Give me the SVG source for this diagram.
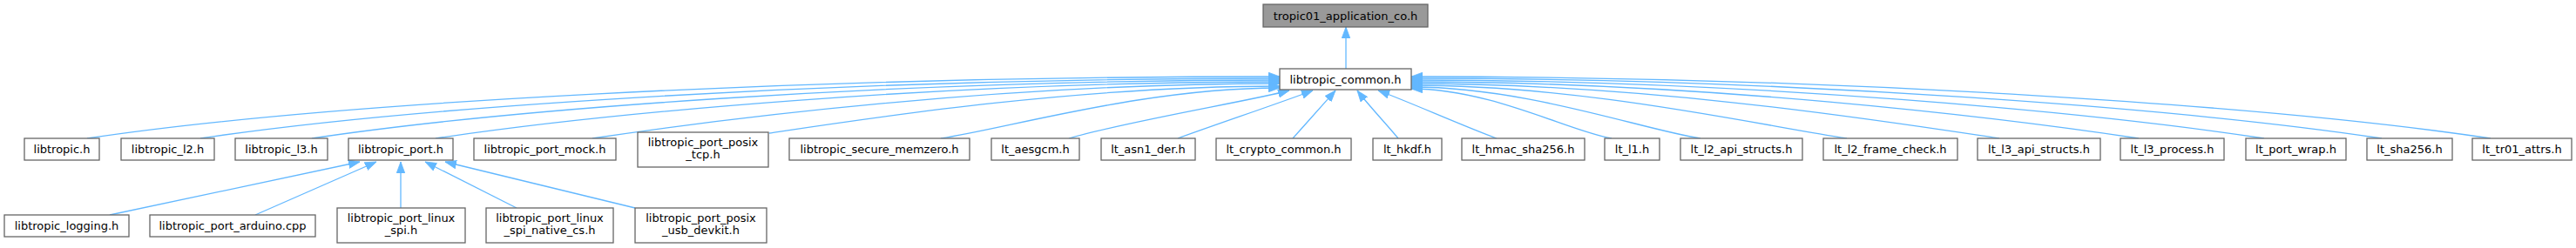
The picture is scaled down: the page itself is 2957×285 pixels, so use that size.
<svg xmlns="http://www.w3.org/2000/svg" width="2957" height="285" viewBox="0 0 2957 285">
<style>
.n rect{fill:#ffffff;stroke:#666666;stroke-width:1.3}
.n.root rect{fill:#999999}
.n text{font-family:"DejaVu Sans",Verdana,sans-serif;font-size:13px;text-anchor:middle;fill:#000000}
.e path{fill:none;stroke:#63b8ff;stroke-width:1.3;marker-end:url(#ah)}
</style>
<defs>
<marker id="ah" markerUnits="userSpaceOnUse" viewBox="0 0 13 10" markerWidth="13" markerHeight="10" refX="13" refY="5" orient="auto">
<path d="M0,0.2 L13,5 L0,9.8 z" fill="#63b8ff" stroke="#63b8ff" stroke-width="0.8"/>
</marker>
</defs>
<rect width="2957" height="285" fill="#ffffff"/>
<g id="edges" class="e">
<path d="M1545,79 L1545,31"/>
<path d="M100,159 C373.8,117.9 921.4,88 1469,88"/>
<path d="M230,159 C477.8,121.8 973.4,90 1469,90"/>
<path d="M358,159 C580.2,125.7 1024.6,92 1469,92"/>
<path d="M500,159 C693.8,129.9 1081.4,94 1469,94"/>
<path d="M680,159 C837.8,135.3 1153.4,96 1469,96"/>
<path d="M883,153 C1000.2,135.4 1234.6,99 1469,99"/>
<path d="M1080,159 C1157.8,147.3 1313.4,101 1469,101"/>
<path d="M1227,159 C1290,140 1440,115 1480,104"/>
<path d="M1352,159 C1390,145 1470,118 1507,104"/>
<path d="M1484,159 C1500,141 1518,121 1533,104"/>
<path d="M1605,159 C1590,141 1571,121 1558,104"/>
<path d="M1718,159 C1680,145 1615,116 1582,104"/>
<path d="M1850,159 C1804,152.1 1712,102 1620,102"/>
<path d="M1952,159 C1885.6,149 1752.8,100 1620,100"/>
<path d="M2120,159 C2020,144 1820,98 1620,98"/>
<path d="M2295,159 C2160,138.75 1890,96 1620,96"/>
<path d="M2455,159 C2288,134 1954,94 1620,94"/>
<path d="M2599,159 C2403.2,129.6 2011.6,92 1620,92"/>
<path d="M2734,159 C2511.2,125.6 2065.6,90 1620,90"/>
<path d="M2859,159 C2611.2,121.8 2115.6,88 1620,88"/>
<path d="M126,247 L413,186"/>
<path d="M293,247 L432,186"/>
<path d="M460,239 L460,186"/>
<path d="M593,239 L488,186"/>
<path d="M729,239 L511,186"/>
</g>
<g id="node_tropic01_application_co" class="n root"><rect x="1450" y="5" width="189" height="26"/><text x="1544.5" y="22.5">tropic01_application_co.h</text></g>
<g id="node_libtropic_common" class="n"><rect x="1469" y="79" width="151" height="24"/><text x="1544.5" y="95.5">libtropic_common.h</text></g>
<g id="node_libtropic" class="n"><rect x="28" y="159" width="86" height="25"/><text x="71" y="176">libtropic.h</text></g>
<g id="node_libtropic_l2" class="n"><rect x="139" y="159" width="107" height="25"/><text x="192.5" y="176">libtropic_l2.h</text></g>
<g id="node_libtropic_l3" class="n"><rect x="270" y="159" width="106" height="25"/><text x="323" y="176">libtropic_l3.h</text></g>
<g id="node_libtropic_port" class="n"><rect x="400" y="159" width="120" height="25"/><text x="460" y="176">libtropic_port.h</text></g>
<g id="node_libtropic_port_mock" class="n"><rect x="544" y="159" width="163" height="25"/><text x="625.5" y="176">libtropic_port_mock.h</text></g>
<g id="node_libtropic_port_posix_tcp" class="n"><rect x="732" y="152" width="150" height="40"/><text x="807" y="168">libtropic_port_posix</text><text x="807" y="182">_tcp.h</text></g>
<g id="node_libtropic_secure_memzero" class="n"><rect x="906" y="159" width="207" height="25"/><text x="1009.5" y="176">libtropic_secure_memzero.h</text></g>
<g id="node_lt_aesgcm" class="n"><rect x="1138" y="159" width="101" height="25"/><text x="1188.5" y="176">lt_aesgcm.h</text></g>
<g id="node_lt_asn1_der" class="n"><rect x="1264" y="159" width="108" height="25"/><text x="1318" y="176">lt_asn1_der.h</text></g>
<g id="node_lt_crypto_common" class="n"><rect x="1396" y="159" width="155" height="25"/><text x="1473.5" y="176">lt_crypto_common.h</text></g>
<g id="node_lt_hkdf" class="n"><rect x="1576" y="159" width="79" height="25"/><text x="1615.5" y="176">lt_hkdf.h</text></g>
<g id="node_lt_hmac_sha256" class="n"><rect x="1678" y="159" width="141" height="25"/><text x="1748.5" y="176">lt_hmac_sha256.h</text></g>
<g id="node_lt_l1" class="n"><rect x="1842" y="159" width="63" height="25"/><text x="1873.5" y="176">lt_l1.h</text></g>
<g id="node_lt_l2_api_structs" class="n"><rect x="1929" y="159" width="140" height="25"/><text x="1999" y="176">lt_l2_api_structs.h</text></g>
<g id="node_lt_l2_frame_check" class="n"><rect x="2093" y="159" width="154" height="25"/><text x="2170" y="176">lt_l2_frame_check.h</text></g>
<g id="node_lt_l3_api_structs" class="n"><rect x="2270" y="159" width="141" height="25"/><text x="2340.5" y="176">lt_l3_api_structs.h</text></g>
<g id="node_lt_l3_process" class="n"><rect x="2434" y="159" width="119" height="25"/><text x="2493.5" y="176">lt_l3_process.h</text></g>
<g id="node_lt_port_wrap" class="n"><rect x="2578" y="159" width="115" height="25"/><text x="2635.5" y="176">lt_port_wrap.h</text></g>
<g id="node_lt_sha256" class="n"><rect x="2717" y="159" width="98" height="25"/><text x="2766" y="176">lt_sha256.h</text></g>
<g id="node_lt_tr01_attrs" class="n"><rect x="2838" y="159" width="114" height="25"/><text x="2895" y="176">lt_tr01_attrs.h</text></g>
<g id="node_libtropic_logging" class="n"><rect x="5" y="247" width="143" height="25"/><text x="76.5" y="264">libtropic_logging.h</text></g>
<g id="node_libtropic_port_arduino" class="n"><rect x="172" y="247" width="190" height="25"/><text x="267" y="264">libtropic_port_arduino.cpp</text></g>
<g id="node_libtropic_port_linux_spi" class="n"><rect x="387" y="239" width="147" height="40"/><text x="460.5" y="255">libtropic_port_linux</text><text x="460.5" y="269">_spi.h</text></g>
<g id="node_libtropic_port_linux_spi_native_cs" class="n"><rect x="558" y="239" width="146" height="40"/><text x="631" y="255">libtropic_port_linux</text><text x="631" y="269">_spi_native_cs.h</text></g>
<g id="node_libtropic_port_posix_usb_devkit" class="n"><rect x="729" y="239" width="151" height="40"/><text x="804.5" y="255">libtropic_port_posix</text><text x="804.5" y="269">_usb_devkit.h</text></g>
</svg>
